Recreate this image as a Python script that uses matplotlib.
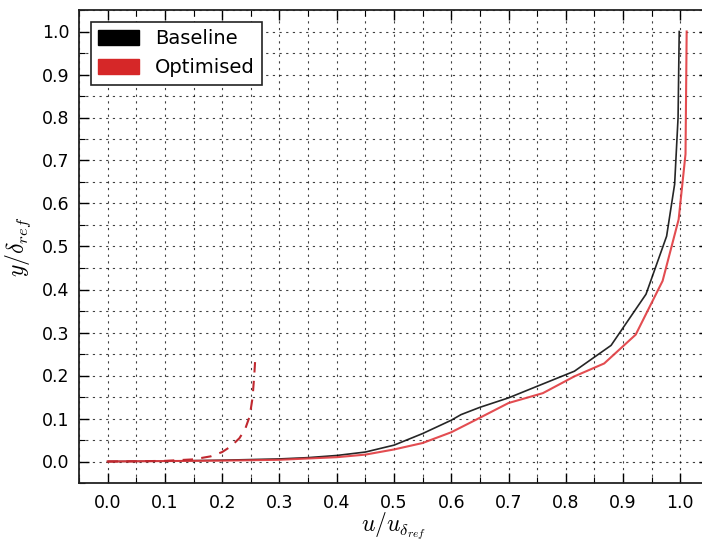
import matplotlib
matplotlib.use("Agg")
import matplotlib.pyplot as plt
import matplotlib.patches as mpatches
from matplotlib.ticker import MultipleLocator

plt.rcParams["mathtext.fontset"] = "cm"

# Baseline profile
base_u = [0, 0.1, 0.2, 0.3, 0.35, 0.4, 0.45, 0.5, 0.55, 0.6, 0.617, 0.65, 0.7, 0.75, 0.815, 0.879, 0.94, 0.976, 0.99, 0.996, 0.998]
base_y = [0, 0.001, 0.003, 0.006, 0.009, 0.014, 0.022, 0.038, 0.065, 0.096, 0.109, 0.126, 0.148, 0.175, 0.21, 0.27, 0.389, 0.524, 0.645, 0.8, 1.0]

# Optimised profile
opt_u = [0, 0.1, 0.2, 0.3, 0.35, 0.4, 0.45, 0.5, 0.55, 0.6, 0.643, 0.7, 0.76, 0.815, 0.867, 0.922, 0.969, 0.997, 1.009, 1.011]
opt_y = [0, 0.001, 0.002, 0.004, 0.007, 0.01, 0.016, 0.028, 0.043, 0.068, 0.097, 0.136, 0.159, 0.198, 0.228, 0.295, 0.42, 0.563, 0.715, 1.0]

# Optimised (dashed) near-wall profile
dash_u = [0, 0.05, 0.1, 0.15, 0.18, 0.2, 0.215, 0.23, 0.24, 0.248, 0.253, 0.256, 0.258]
dash_y = [0, 0.0005, 0.0015, 0.005, 0.012, 0.022, 0.035, 0.054, 0.075, 0.105, 0.148, 0.2, 0.245]

labels = ["Baseline", "Optimised"]
colors = ["black", "#d62728"]

fig = plt.figure(figsize=(7.02, 5.41), dpi=100)
ax = fig.add_axes([79/702, (541-483)/541, 630/702, 473/541])

ax.plot(base_u, base_y, color="black", lw=1.2, alpha=0.85)
ax.plot(opt_u, opt_y, color="#e0393e", lw=1.5, alpha=0.9)
ax.plot(dash_u, dash_y, color="#c0282f", lw=1.5, ls=(0, (5, 4)))

ax.set_xlim(-0.05, 1.05)
ax.set_ylim(-0.05, 1.05)
ax.xaxis.set_major_locator(MultipleLocator(0.1))
ax.yaxis.set_major_locator(MultipleLocator(0.1))
ax.xaxis.set_minor_locator(MultipleLocator(0.05))
ax.yaxis.set_minor_locator(MultipleLocator(0.05))
ax.set_xticks([i/10 for i in range(11)])
ax.set_xticklabels([f"{i/10:.1f}" for i in range(11)])

ax.grid(True, which="both", color="black", ls=(0, (2, 4)), lw=0.8, alpha=0.75)
ax.tick_params(which="both", direction="in", top=True, right=True, labelsize=12.5)
ax.tick_params(axis="x", pad=8)
ax.tick_params(axis="y", pad=7)
ax.tick_params(which="major", length=7, width=1)
ax.tick_params(which="minor", length=4, width=0.8)
for s in ax.spines.values():
    s.set_linewidth(1.3)
    s.set_color("#222222")

ax.set_xlabel(r"$u/u_{\delta_{ref}}$", fontsize=17, labelpad=-1)
ax.set_ylabel(r"$y/\delta_{ref}$", fontsize=17, labelpad=6)

handles = [mpatches.Patch(facecolor=c, edgecolor=c) for c in colors]
leg = ax.legend(handles, labels, loc="upper left", fontsize=14, fancybox=False,
                framealpha=1, edgecolor="#222222", borderaxespad=0.6,
                handlelength=2.1, handleheight=0.8)
leg.get_frame().set_linewidth(1.2)

fig.savefig("out.png", dpi=100)
